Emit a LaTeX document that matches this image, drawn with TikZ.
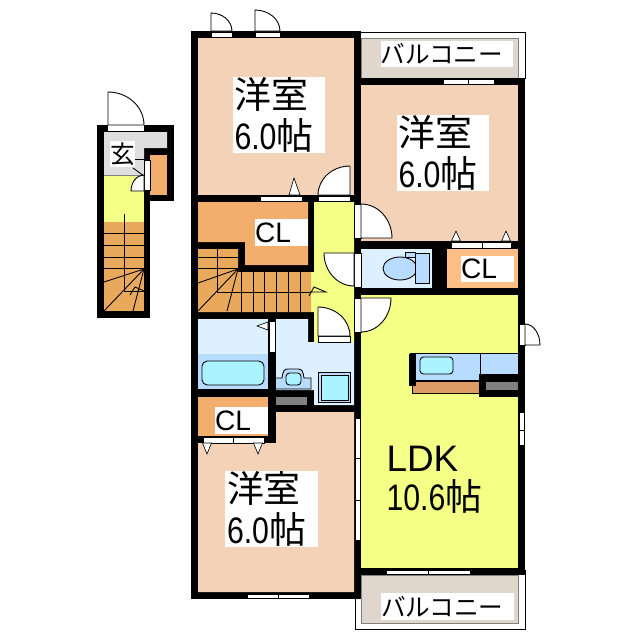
\documentclass[tikz,border=0pt]{standalone}
\usepackage{fontspec}
\setmainfont{Liberation Sans}
\newfontfamily\jp{Noto Sans CJK JP}
\newfontfamily\numfont[FakeStretch=0.82]{Liberation Sans}
\usetikzlibrary{calc}
\definecolor{roomtan}{HTML}{F3D2B7}
\definecolor{closet}{HTML}{F2AE6D}
\definecolor{closetlt}{HTML}{FDBF85}
\definecolor{stairs}{HTML}{E8A95D}
\definecolor{hall}{HTML}{F4FF85}
\definecolor{wet}{HTML}{DDF0FF}
\definecolor{fixture}{HTML}{B8DCFF}
\definecolor{basin}{HTML}{AAF3FF}
\definecolor{balcony}{HTML}{E0D6CC}
\definecolor{bench}{HTML}{DC9C63}
\tikzset{
    every node/.style={inner sep=0pt, fill=white}
}
\tikzset{
    sash/.style={fill=white, draw=black, line width=.35pt},
    swing/.style={fill=white, draw=black, line width=.5pt},
    thin line/.style={draw=black, line width=.5pt},
    item/.style={draw=black, line width=.5pt},
    bigtext/.style={font=\fontsize{21pt}{21pt}\selectfont, align=left, text width=#1},
    smalltext/.style={font=\fontsize{16pt}{16pt}\selectfont, align=left, text width=#1},
    kanatext/.style={font=\jp\fontsize{14pt}{14pt}\selectfont, align=left, text width=#1},
    entrytext/.style={font=\jp\fontsize{14pt}{14pt}\selectfont, align=center}
}
% hinge, end of the leaf, end of the swing
\newcommand{\doorswing}[3]{
  \draw[swing] (#1) -- (#2)
    .. controls ($(#2)+0.5523*($(#3)-(#1)$)$) and ($(#3)+0.5523*($(#2)-(#1)$)$) .. (#3) -- cycle;
}
\begin{document}
\begin{tikzpicture}[x=0.02cm,y=-0.02cm]
  \useasboundingbox (0,0) rectangle (640,640);

  % balconies
  \draw[fill=white,line width=.4pt] (355,32) rectangle (525,78);
  \draw[fill=balcony,draw=gray,line width=.4pt] (361,38) rectangle (518,78);
  \draw[fill=white,line width=.5pt] (355,570) rectangle (525,629);
  \draw[fill=balcony,draw=gray,line width=.4pt] (361,575) rectangle (518,623);

  % walls
  \fill (191,31) rectangle (361,599);
  \fill (354,78) rectangle (525,575);
  \fill (97,125) rectangle (150,318);
  \fill (97,125) rectangle (174,201);

  % rooms
  \fill[roomtan] (198,38) rectangle (354,195);
  \fill[roomtan] (361,85) rectangle (518,241);
  \fill[roomtan] (276,412) -- (354,412) -- (354,592) -- (198,592) -- (198,443) -- (276,443) -- cycle;
  \fill[closet] (198,202) -- (308,202) -- (308,265) -- (245,265) -- (245,242) -- (198,242) -- cycle;
  \fill[closet] (198,397) rectangle (268,436);
  \fill[closetlt] (447,249) rectangle (518,288);
  \fill[hall] (314,202) -- (354,202) -- (354,342) -- (314,342) -- (314,312) -- (311,312) -- (311,272) -- (314,272) -- cycle;
  \fill[hall] (361,295) rectangle (518,568);
  \fill[wet] (198,319) rectangle (268,354);
  \fill[fixture] (198,354) rectangle (268,389);
  \fill[wet] (276,319) -- (308,319) -- (308,342) -- (354,342) -- (354,405) -- (314,405) -- (314,390) -- (276,390) -- cycle;
  \fill[wet] (361,249) rectangle (432,288);
  \fill[gray] (276,397) rectangle (307,405);

  % stairs
  \fill[stairs] (198,249) -- (238,249) -- (238,272) -- (311,272) -- (311,312) -- (198,312) -- cycle;
  \foreach \sx in {241,253,264,276,288,300}
    \draw[thin line] (\sx,272) -- (\sx,312);
  \draw[thin line] (198,257) -- (238,257);
  \draw[thin line] (198,268) -- (238,268);
  \draw[thin line] (217,249) -- (217,292) -- (311,292);
  \draw[thin line] (238,269) -- (198,283);
  \draw[thin line] (238,269) -- (198,311);
  \draw[thin line] (238,269) -- (227,311);
  \draw[thin line] (309,296) -- (314,287) -- (326,292) -- (310,292);

  % entrance
  \fill[black!13] (104,132) -- (167,132) -- (167,148) -- (144,148) -- (144,175) -- (104,175) -- cycle;
  \fill[hall] (104,175) rectangle (144,222);
  \fill[stairs] (104,222) rectangle (144,311);
  \fill[closet] (150,155) rectangle (167,195);
  \draw[gray,line width=.5pt] (104,175) -- (144,175);
  \foreach \sy in {233,245,257,268}
    \draw[thin line] (104,\sy) -- (144,\sy);
  \draw[thin line] (124,214) -- (124,291) -- (144,291);
  \draw[thin line] (144,269) -- (104,282);
  \draw[thin line] (144,269) -- (104,311);
  \draw[thin line] (144,269) -- (133,311);
  \draw[thin line] (130,295) -- (135,287) -- (144,291);
  \draw[sash] (144,160) rectangle (150,190);
  \draw[thin line] (135,159) -- (150,159);
  \draw[thin line] (133,168) -- (144,176);
  \doorswing{144,191}{131,191}{144,175}
  \fill[white] (108,125) rectangle (144,131);
  \doorswing{108,125}{108,92}{144,125}

  % kitchen
  \draw[fill=fixture,line width=.4pt] (410,353) rectangle (518,380);
  \draw[line width=.4pt] (480,353) -- (480,374);
  \draw[item,fill=bench] (412,381) rectangle (480,393);
  \fill (409,354) rectangle (416,386);
  \draw[item,fill=basin,rounded corners=2pt] (420,357) rectangle (453,374);
  \fill (479,374) rectangle (525,397);
  \fill[gray] (486,382) rectangle (518,390);

  % bath and washroom
  \draw[item,fill=basin,rounded corners=3pt] (202,361) rectangle (264,385);
  \draw[item,fill=fixture] (276,378) -- (282,378) .. controls (283,371) and (284,369) .. (288,369)
    -- (298,369) .. controls (302,369) and (303,371) .. (304,378) -- (311,378) -- (311,389) -- (276,389);
  \draw[item,fill=basin,rounded corners=2pt] (286,373) rectangle (301,385);
  \draw[item,fill=fixture] (318,372) rectangle (350,402);
  \draw[item,fill=basin] (321,375) rectangle (348,400);
  \draw[sash] (269,321) rectangle (275,352);
  \draw[sash] (257,326) -- (268,322) -- (268,330) -- cycle;

  % toilet
  \draw[item,fill=fixture] (405,252) rectangle (415,257);
  \draw[item,fill=fixture] (400,268.5) ellipse [x radius=17, y radius=11.5];
  \draw[item,fill=fixture] (415,253) rectangle (429,283);

  % windows and closet doors
  \foreach \wa/\wb in {443/468,468/494}
    \draw[sash] (\wa,79.5) rectangle (\wb,84);
  \foreach \wa/\wb in {386/428,428/470}
    \draw[sash] (\wa,570) rectangle (\wb,574);
  \foreach \wa/\wb in {247/278,278/309}
    \draw[sash] (\wa,594) rectangle (\wb,598);
  \foreach \wa/\wb in {451/482,482/511}
    \draw[sash] (\wa,242) rectangle (\wb,248);
  \foreach \wa/\wb in {203/233,233/264}
    \draw[sash] (\wa,437) rectangle (\wb,443);
  \foreach \wa/\wb in {412/430,430/445}
    \draw[sash] (519,\wa) rectangle (524,\wb);
  \foreach \wa/\wb in {418/458,458/500,500/540}
    \draw[sash] (355,\wa) rectangle (360,\wb);
  \draw[sash] (260,196) rectangle (302,201);
  \foreach \tx in {456,506}
    \draw[sash] (\tx-4.5,241) -- (\tx,231) -- (\tx+4.5,241) -- cycle;
  \foreach \tx in {207,258}
    \draw[sash] (\tx-4.5,443) -- (\tx,454) -- (\tx+4.5,443) -- cycle;
  \draw[sash] (289,195) -- (294,178) -- (300,195) -- cycle;

  % doors
  \draw[sash] (211,32) rectangle (232,37);
  \draw[sash] (255,32) rectangle (280,37);
  \doorswing{211,31}{211,13}{232,31}
  \doorswing{255,31}{255,10}{280,31}
  \draw[sash] (318,196) rectangle (350,201);
  \doorswing{350,195}{350,166}{318,195}
  \draw[sash] (318,336) rectangle (350,342);
  \doorswing{318,336}{318,307}{350,336}
  \draw[sash] (354.5,204) rectangle (361,238);
  \doorswing{361,238}{392,238}{361,204}
  \draw[sash] (354.5,253) rectangle (361,287);
  \doorswing{354,253}{324,253}{354,286}
  \draw[sash] (354.5,298) rectangle (361,332);
  \doorswing{361,298}{391,298}{361,332}
  \draw[sash] (519,324) rectangle (525,345);
  \doorswing{525,345}{540,345}{525,324}

  % labels
  \node[bigtext=1.78cm, minimum width=1.86cm, minimum height=1.48cm] (roomA) at (279,115) {{\jp 洋室}\\[1mm]{\numfont 6.0}{\jp 帖}};
  \node[bigtext=1.78cm, minimum width=1.86cm, minimum height=1.48cm] (roomB) at (443,153) {{\jp 洋室}\\[1mm]{\numfont 6.0}{\jp 帖}};
  \node[bigtext=1.78cm, minimum width=1.86cm, minimum height=1.48cm] (roomC) at (271.5,509) {{\jp 洋室}\\[1mm]{\numfont 6.0}{\jp 帖}};
  \node[bigtext=1.9cm, fill=none] (ldk) at (434,480) {LDK\\[.5mm]{\numfont 10.6}{\jp 帖}};
  \node[kanatext=2.66cm, minimum height=.52cm] (balconyA) at (447,54) {バルコニー};
  \node[kanatext=2.66cm, minimum height=.54cm] (balconyB) at (447.5,606.5) {バルコニー};
  \node[smalltext=1.06cm, minimum height=.54cm] (clA) at (281.5,232.5) {CL};
  \node[smalltext=1.06cm, minimum height=.52cm] (clB) at (487.5,269) {CL};
  \node[smalltext=1.06cm, minimum height=.54cm] (clC) at (241.5,420.5) {CL};
  \node[entrytext, minimum width=.5cm, minimum height=.52cm] (entry) at (122.5,154) {玄};
\end{tikzpicture}
\end{document}
